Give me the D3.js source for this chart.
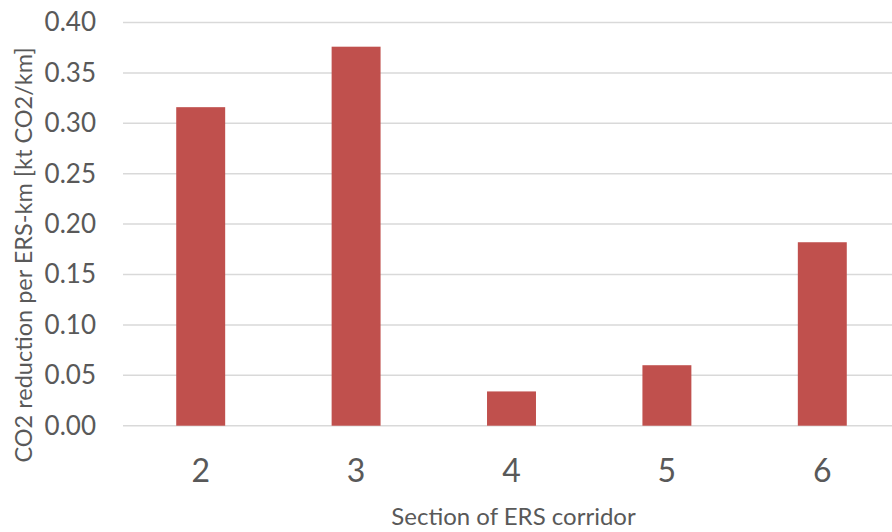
<!DOCTYPE html>
<html>
<head>
<meta charset="utf-8">
<script src="https://cdn.jsdelivr.net/npm/d3@7"></script>
<style>
  html, body { margin: 0; padding: 0; background: #fff; }
  svg { display: block; font-family: Lato, "Open Sans", sans-serif; }
</style>
</head>
<body>
<svg id="chart" width="892" height="532"></svg>
<script>
// Sections of the ERS corridor and CO2 reduction per ERS-km (kt CO2/km)
const sections = ["2", "3", "4", "5", "6"];
const co2Reduction = [0.316, 0.376, 0.034, 0.060, 0.182];
const yTicks = [0, 0.05, 0.10, 0.15, 0.20, 0.25, 0.30, 0.35, 0.40];

const svg = d3.select("#chart");
const plot = { left: 123, right: 900, top: 22.5, bottom: 425.7 };

const x = d3.scaleBand()
  .domain(sections)
  .range([plot.left, plot.right])
  .paddingInner(0.685)
  .paddingOuter(0.3425);

const y = d3.scaleLinear()
  .domain([0, 0.40])
  .range([plot.bottom, plot.top]);

// Horizontal gridlines
svg.append("g")
  .selectAll("line")
  .data(yTicks)
  .join("line")
  .attr("x1", plot.left)
  .attr("x2", plot.right)
  .attr("y1", d => y(d))
  .attr("y2", d => y(d))
  .attr("stroke", "#d9d9d9")
  .attr("stroke-width", 1.5);

// Y axis labels
const yAxis = svg.append("g")
  .attr("transform", `translate(${plot.left - 27},0)`)
  .call(d3.axisLeft(y).tickValues(yTicks).tickFormat(d3.format(".2f")).tickSize(0).tickPadding(0));
yAxis.select(".domain").remove();
yAxis.selectAll("text")
  .attr("fill", "#595959")
  .attr("font-size", 26)
  .attr("font-family", "Lato, 'Open Sans', sans-serif");

// Bars
svg.append("g")
  .selectAll("rect")
  .data(sections.map((s, i) => ({ s, v: co2Reduction[i] })))
  .join("rect")
  .attr("x", d => x(d.s))
  .attr("width", x.bandwidth())
  .attr("y", d => y(d.v))
  .attr("height", d => y(0) - y(d.v))
  .attr("fill", "#c0504d");

// X axis category labels
const xAxis = svg.append("g")
  .attr("transform", `translate(0,${plot.bottom + 34})`)
  .call(d3.axisBottom(x).tickSize(0).tickPadding(0));
xAxis.select(".domain").remove();
xAxis.selectAll("text")
  .attr("fill", "#595959")
  .attr("font-size", 32)
  .attr("font-family", "Lato, 'Open Sans', sans-serif");

// Axis titles
svg.append("text")
  .attr("x", (plot.left + 892) / 2 + 6)
  .attr("y", 525)
  .attr("text-anchor", "middle")
  .attr("fill", "#595959")
  .attr("font-size", 24)
  .text("Section of ERS corridor");

svg.append("text")
  .attr("transform", `translate(32,${255}) rotate(-90)`)
  .attr("text-anchor", "middle")
  .attr("fill", "#595959")
  .attr("font-size", 23.5)
  .text("CO2 reduction per ERS-km [kt CO2/km]");
</script>
</body>
</html>
